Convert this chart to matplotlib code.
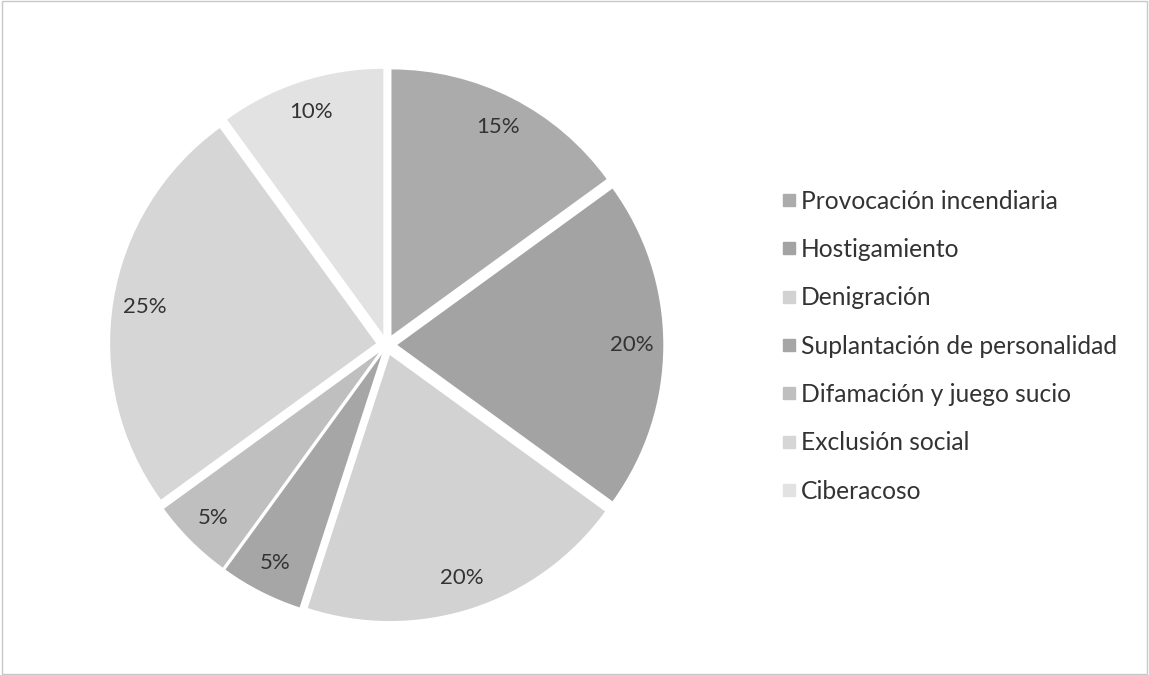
import matplotlib
matplotlib.use("Agg")
import matplotlib.pyplot as plt
from matplotlib.patches import Rectangle
from matplotlib.lines import Line2D

categories = ["Provocación incendiaria", "Hostigamiento", "Denigración",
              "Suplantación de personalidad", "Difamación y juego sucio",
              "Exclusión social", "Ciberacoso"]
values = [15, 20, 20, 5, 5, 25, 10]
colors = ["#ababab", "#a3a3a3", "#d2d2d2", "#a6a6a6", "#bfbfbf", "#d6d6d6", "#e2e2e2"]

plt.rcParams['font.family'] = ['Lato', 'DejaVu Sans']

fig = plt.figure(figsize=(11.49, 6.75), dpi=100)
fig.patches.append(Rectangle((0.002, 0.002), 0.996, 0.996, transform=fig.transFigure,
                             fill=False, edgecolor="#c8c8c8", linewidth=1))

ax = fig.add_axes([0.083, 0.057, 0.507, 0.864])
wedges, texts, autotexts = ax.pie(values, colors=colors, startangle=90, counterclock=False,
                                  explode=[0.04] * len(values),
                                  autopct=lambda p: f"{p:.0f}%", pctdistance=0.88,
                                  wedgeprops=dict(linewidth=0),
                                  textprops=dict(fontsize=16, color="#333333"))
ax.set_xlim(-1.095, 1.095)
ax.set_ylim(-1.095, 1.095)
ax.set_aspect("equal")
ax.axis("off")

handles = [Line2D([0], [0], marker="s", linestyle="none", markersize=8,
                  markerfacecolor=c, markeredgecolor=c) for c in colors]
leg = fig.legend(handles, categories, loc="upper left", bbox_to_anchor=(0.679, 0.719),
                 frameon=False, fontsize=17.7, labelspacing=1.03, handletextpad=0.15,
                 handlelength=0.7, borderaxespad=0, borderpad=0)
for t in leg.get_texts():
    t.set_color("#333333")

fig.savefig("out.png", dpi=100, facecolor="white")
